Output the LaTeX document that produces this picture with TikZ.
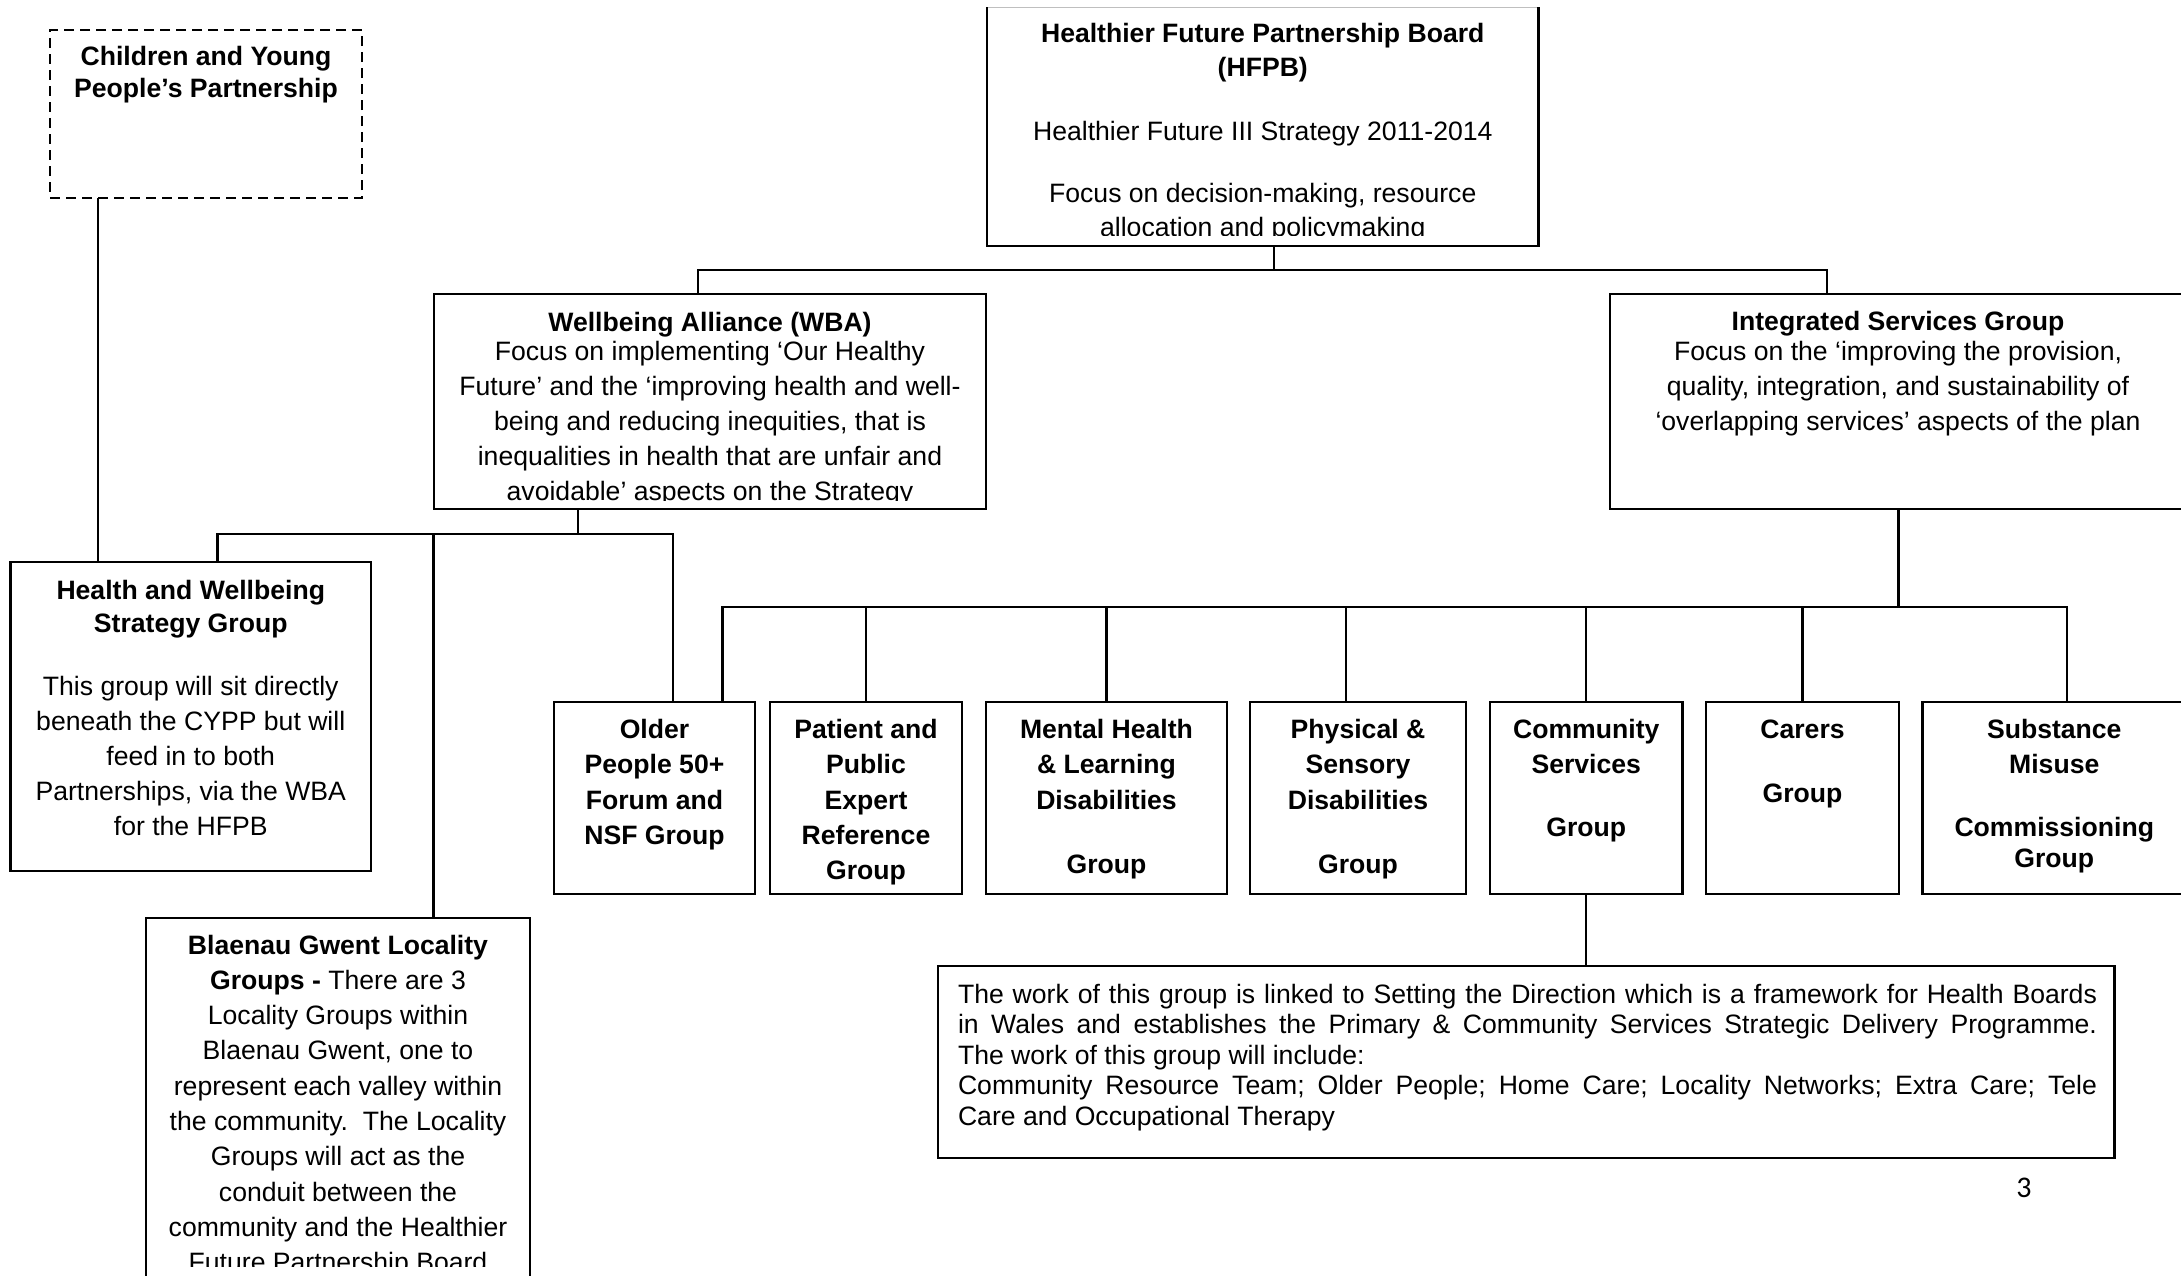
\documentclass[tikz,border=0pt]{standalone}
\usepackage{fontspec}
\setmainfont{Liberation Sans}
\newfontfamily\pagenumfont{Carlito}
\usetikzlibrary{fit}
% fixed Arial-width interword space (no stretch) for centred text
\newcommand\nsp{\spaceskip=\fontdimen2\font\xspaceskip=\fontdimen2\font\relax}
% font's own stretchable interword space for justified text
\newcommand\jsp{\spaceskip=0pt\xspaceskip=0pt\relax}
\begin{document}
\frenchspacing
\begin{tikzpicture}[x=1pt,y=-1pt,
  box/.style={draw=black, line width=2.2pt, inner sep=0pt, outer sep=0pt},
  dbox/.style={box, dash pattern=on 10pt off 6pt},
  conn/.style={draw=black, line width=2.1pt},
  lbl/.style={inner sep=0pt, outer sep=0pt, align=center, anchor=base, font=\fontsize{26.6pt}{35pt}\selectfont},
  grp/.style={lbl, font=\fontsize{26.6pt}{35.3pt}\selectfont\bfseries},
]
\useasboundingbox (0,0) rectangle (2181,1275);
\clip (0,0) rectangle (2181,1275);
\fill[white] (0,0) rectangle (2181,1275);

% ---------- boxes ----------
\node[box, draw=none, fit={(987,7) (1538.5,246)}] (hfpb) {};
\draw[black!25, line width=1pt] (hfpb.north west) -- (hfpb.north east);
\draw[box] (hfpb.north west) -- (hfpb.south west) -- (hfpb.south east) -- (hfpb.north east);

\node[dbox, fit={(50,30) (362,198)}] (cypp) {};
\node[box, fit={(434,294) (986,509)}] (wba) {};
\node[box, fit={(1610,294) (2186,509)}] (isg) {};
\node[box, fit={(10.5,562) (371,871)}] (hwsg) {};
\node[box, fit={(146,918) (530,1300)}] (blae) {};
\node[box, fit={(554,702) (755,894)}] (older) {};
\node[box, fit={(770,702) (962,894)}] (patient) {};
\node[box, fit={(986,702) (1227,894)}] (mental) {};
\node[box, fit={(1250,702) (1466,894)}] (phys) {};
\node[box, fit={(1490,702) (1682.5,894)}] (comm) {};
\node[box, fit={(1706,702) (1899,894)}] (carers) {};
\node[box, fit={(1922.5,702) (2186,894)}] (subst) {};
\node[box, fit={(938,966) (2114.5,1158)}] (det) {};

% ---------- texts ----------
\begin{scope}
\clip (987,7) rectangle (1538.5,235);
\node[lbl, text width=540pt, font=\fontsize{26.6pt}{34pt}\selectfont] (thfpb) at (1262.75,42.7)
 {\nsp{\bfseries\nsp Healthier Future Partnership Board\\ (HFPB)}\\[30pt]
  Healthier Future III Strategy 2011-2014\\[28pt]
  Focus on decision-making, resource\\ allocation and policymaking};
\end{scope}

\node[lbl, text width=300pt, font=\fontsize{26.6pt}{32pt}\selectfont\bfseries] (tcypp) at (206,65)
 {\nsp Children and Young\\ People’s Partnership};

\begin{scope}
\clip (434,294) rectangle (986,500);
\node[lbl, text width=540pt] (twba) at (710,331)
 {\nsp{\bfseries\nsp Wellbeing Alliance (WBA)}\\[-6pt]
  Focus on implementing ‘Our Healthy\\
  Future’ and the ‘improving health and well-\\
  being and reducing inequities, that is\\
  inequalities in health that are unfair and\\
  avoidable’ aspects on the Strategy};
\end{scope}

\node[lbl, text width=560pt] (tisg) at (1898,330)
 {\nsp{\bfseries\nsp Integrated Services Group}\\[-5pt]
  Focus on the ‘improving the provision,\\
  quality, integration, and sustainability of\\
  ‘overlapping services’ aspects of the plan};

\node[lbl, text width=350pt] (thwsg) at (190.75,599)
 {\nsp{\bfseries\nsp Health and Wellbeing\\[-2pt] Strategy Group}\\[28pt]
  This group will sit directly\\ beneath the CYPP but will\\ feed in to both\\
  Partnerships, via the WBA\\ for the HFPB};

\begin{scope}
\clip (146,918) rectangle (530,1266);
\node[lbl, text width=375pt, font=\fontsize{26.6pt}{35.3pt}\selectfont] (tblae) at (338,954)
 {\nsp{\bfseries\nsp Blaenau Gwent Locality\\ Groups -} There are 3\\
  Locality Groups within\\ Blaenau Gwent, one to\\ represent each valley within\\
  the community.\ \ The Locality\\ Groups will act as the\\ conduit between the\\
  community and the Healthier\\ Future Partnership Board};
\end{scope}

\node[grp, text width=195pt] (tolder) at (654.5,738.5) {\nsp Older\\ People 50+\\ Forum and\\ NSF Group};
\node[grp, text width=186pt] (tpatient) at (866,738.5) {\nsp Patient and\\ Public\\ Expert\\ Reference\\ Group};
\node[grp, text width=235pt] (tmental) at (1106.5,738.5) {\nsp Mental Health\\ \&\ Learning\\ Disabilities\\[29pt] Group};
\node[grp, text width=210pt] (tphys) at (1358,738.5) {\nsp Physical \&\\ Sensory\\ Disabilities\\[29pt] Group};
\node[grp, text width=186pt] (tcomm) at (1586.25,738.5) {\nsp Community\\ Services\\[27pt] Group};
\node[grp, text width=186pt] (tcarers) at (1802.5,738.5) {\nsp Carers\\[29pt] Group};
\node[grp, text width=255pt] (tsubst) at (2054.25,738.5) {\nsp Substance\\ Misuse\\[27pt] Commissioning\\[-4pt] Group};

\node[inner sep=0pt, outer sep=0pt, anchor=base west, text width=1139pt, align=left,
      font=\fontsize{26.6pt}{30.5pt}\selectfont] (tdet) at (958,1003)
 {\jsp\makebox[\linewidth][s]{The work of this group is linked to Setting the Direction which is a framework for Health Boards}\\
  \makebox[\linewidth][s]{in Wales and establishes the Primary \& Community Services Strategic Delivery Programme.}\\
  \nsp The work of this group will include:\\
  \jsp\makebox[\linewidth][s]{Community Resource Team; Older People; Home Care; Locality Networks; Extra Care; Tele}\\
  \nsp Care and Occupational Therapy};

\node[inner sep=0pt, anchor=base, font=\pagenumfont\fontsize{30pt}{34pt}\selectfont] (pnum) at (2024,1197) {3};

% ---------- connectors ----------
\coordinate (h0) at (1274,270);
\coordinate (hL) at (698,270);
\coordinate (hR) at (1827,270);
\draw[conn] (h0 |- hfpb.south) -- (h0);
\draw[conn] (hL |- wba.north) -- (hL) -- (hR) -- (hR |- isg.north);

\coordinate (c0) at (98,0);
\draw[conn] (c0 |- cypp.south) -- (c0 |- hwsg.north);

\coordinate (w0) at (578,534);
\coordinate (wL) at (217.5,534);
\coordinate (wM) at (433.5,534);
\coordinate (wR) at (673,534);
\draw[conn] (w0 |- wba.south) -- (w0);
\draw[conn] (wL |- hwsg.north) -- (wL) -- (wR) -- (wR |- older.north);
\draw[conn] (wM) -- (wM |- blae.north);

\coordinate (i0) at (1898.5,606.7);
\coordinate (iL) at (722.5,606.7);
\coordinate (iR) at (2067,606.7);
\draw[conn] (i0 |- isg.south) -- (i0);
\draw[conn] (iL |- older.north) -- (iL) -- (iR) -- (iR |- subst.north);
\coordinate (ip) at (866,606.7);
\coordinate (im) at (1106.5,606.7);
\coordinate (iph) at (1346,606.7);
\coordinate (ic) at (1586.25,606.7);
\coordinate (ica) at (1802.5,606.7);
\draw[conn] (ip) -- (ip |- patient.north);
\draw[conn] (im) -- (im |- mental.north);
\draw[conn] (iph) -- (iph |- phys.north);
\draw[conn] (ic) -- (ic |- comm.north);
\draw[conn] (ica) -- (ica |- carers.north);
\draw[conn] (comm.south) -- (comm.south |- det.north);
\end{tikzpicture}
\end{document}
